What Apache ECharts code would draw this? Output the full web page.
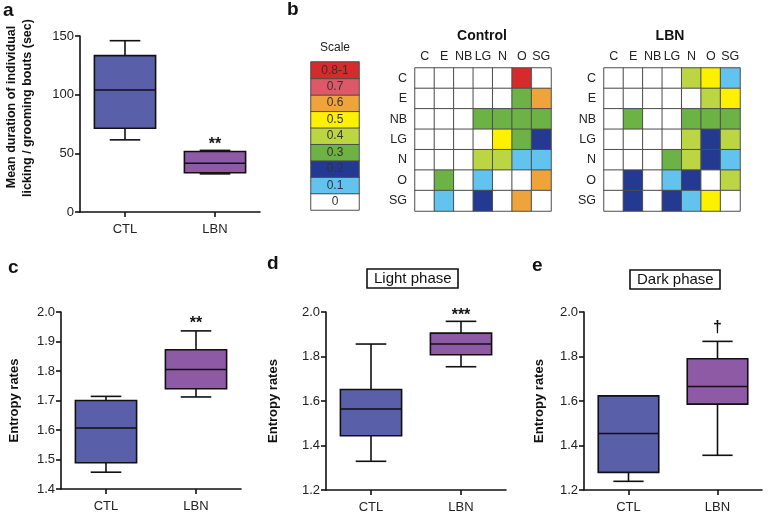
<!DOCTYPE html>
<html>
<head>
<meta charset="utf-8">
<script src="https://cdn.jsdelivr.net/npm/echarts@6/dist/echarts.min.js"></script>
<style>
html,body{margin:0;padding:0;background:#fff;}
#chart{width:768px;height:516px;}
</style>
</head>
<body>
<div id="chart"></div>
<script>
// ---------- DATA ----------
const GROUPS = ['CTL', 'LBN'];
// box stats: [min, Q1, median, Q3, max]
const panelA_CTL = [61.5, 71.4, 104, 133.3, 146];
const panelA_LBN = [32.5, 33.5, 41.5, 51.5, 52.5];
const panelC_CTL = [1.457, 1.489, 1.607, 1.700, 1.714];
const panelC_LBN = [1.712, 1.740, 1.805, 1.872, 1.936];
const panelD_CTL = [1.329, 1.444, 1.564, 1.652, 1.856];
const panelD_LBN = [1.754, 1.808, 1.856, 1.905, 1.958];
const panelE_CTL = [1.239, 1.279, 1.454, 1.623, 1.623];
const panelE_LBN = [1.356, 1.586, 1.665, 1.790, 1.868];
// significance marks: [group, y value, text]
const sigA = [['LBN', 57.5, '**']];
const sigC = [['LBN', 1.96, '**']];
const sigD = [['LBN', 1.985, '***']];
const sigE = [['LBN', 1.93, '\u2020']];

const BEHAVIOURS = ['C', 'E', 'NB', 'LG', 'N', 'O', 'SG'];
const controlMatrix = [
  [0, 0, 0, 0, 0, 0.8, 0],
  [0, 0, 0, 0, 0, 0.3, 0.6],
  [0, 0, 0, 0.3, 0.3, 0.3, 0.3],
  [0, 0, 0, 0, 0.5, 0.3, 0.2],
  [0, 0, 0, 0.4, 0.4, 0.1, 0.1],
  [0, 0.3, 0, 0.1, 0, 0, 0.6],
  [0, 0.1, 0, 0.2, 0, 0.6, 0]
];
const lbnMatrix = [
  [0, 0, 0, 0, 0.4, 0.5, 0.1],
  [0, 0, 0, 0, 0, 0.4, 0.5],
  [0, 0.3, 0, 0, 0.3, 0.3, 0.3],
  [0, 0, 0, 0, 0.4, 0.2, 0.4],
  [0, 0, 0, 0.3, 0.4, 0.2, 0.1],
  [0, 0.2, 0, 0.1, 0.2, 0, 0.4],
  [0, 0.2, 0, 0.2, 0.1, 0.5, 0]
];
const scaleLevels = [0, 0.1, 0.2, 0.3, 0.4, 0.5, 0.6, 0.7, 0.8];
const scaleLabels = ['0', '0.1', '0.2', '0.3', '0.4', '0.5', '0.6', '0.7', '0.8-1'];
const scaleColors = ['#ffffff', '#62c3ee', '#243a92', '#6cb244', '#bcd543', '#fdf100', '#eea43a', '#de5868', '#d62b2c'];

// ---------- BUILD ----------
const FONT = '"Liberation Sans", Arial, sans-serif';
const CTL_COLOR = '#5a5fa9';
const LBN_COLOR = '#8f5aa5';

function boxData(ctl, lbn) { return [[0].concat(ctl), [1].concat(lbn)]; }
function matrixData(m) {
  const out = [];
  m.forEach((row, r) => row.forEach((v, c) => out.push([c, r, v])));
  return out;
}

function boxRender(params, api) {
  const idx = api.value(0);
  const cx = api.coord([idx, api.value(3)])[0];
  const band = api.size([1, 0])[0];
  const bw = band * 0.68;
  const cap = bw * 0.5;
  const yMin = api.coord([idx, api.value(1)])[1];
  const yQ1 = api.coord([idx, api.value(2)])[1];
  const yMed = api.coord([idx, api.value(3)])[1];
  const yQ3 = api.coord([idx, api.value(4)])[1];
  const yMax = api.coord([idx, api.value(5)])[1];
  const st = { stroke: '#111', lineWidth: 1.6, fill: null };
  return {
    type: 'group',
    children: [
      { type: 'line', shape: { x1: cx, y1: yQ3, x2: cx, y2: yMax }, style: st },
      { type: 'line', shape: { x1: cx - cap / 2, y1: yMax, x2: cx + cap / 2, y2: yMax }, style: st },
      { type: 'line', shape: { x1: cx, y1: yQ1, x2: cx, y2: yMin }, style: st },
      { type: 'line', shape: { x1: cx - cap / 2, y1: yMin, x2: cx + cap / 2, y2: yMin }, style: st },
      { type: 'rect', shape: { x: cx - bw / 2, y: yQ3, width: bw, height: yQ1 - yQ3 },
        style: { fill: idx === 0 ? CTL_COLOR : LBN_COLOR, stroke: '#111', lineWidth: 1.6 } },
      { type: 'line', shape: { x1: cx - bw / 2, y1: yMed, x2: cx + bw / 2, y2: yMed }, style: st }
    ]
  };
}
function sigRender(params, api) {
  const p = api.coord([api.value(0), api.value(1)]);
  return {
    type: 'text', x: p[0], y: p[1],
    style: { text: api.value(2), textAlign: 'center', textVerticalAlign: 'middle',
      font: 'bold 16px ' + FONT, fill: '#111' }
  };
}

const axisLine = { show: true, lineStyle: { color: '#111', width: 1.6 } };
function boxX(gi) {
  return { type: 'category', gridIndex: gi, data: GROUPS, boundaryGap: true,
    axisLine: axisLine, axisTick: { show: true, alignWithLabel: true, length: 5, lineStyle: { color: '#111', width: 1.6 } },
    axisLabel: { color: '#222', fontSize: 13, fontFamily: FONT, margin: 11 }, splitLine: { show: false } };
}
function boxY(gi, min, max, interval, digits, name, gap) {
  return { type: 'value', gridIndex: gi, min: min, max: max, interval: interval,
    axisLine: axisLine, axisTick: { show: true, length: 5, lineStyle: { color: '#111', width: 1.6 } },
    axisLabel: { color: '#222', fontSize: 13, fontFamily: FONT, margin: 6,
      formatter: v => v.toFixed(digits) },
    splitLine: { show: false },
    name: name || '', nameLocation: 'middle', nameRotate: 90, nameGap: gap || 34,
    nameTextStyle: { fontWeight: 'bold', fontSize: 13, fontFamily: FONT, color: '#111' } };
}
function heatX(gi, show) {
  return { type: 'category', gridIndex: gi, data: show ? BEHAVIOURS : ['s'], position: 'top',
    axisLine: { show: false }, axisTick: { show: false }, splitLine: { show: false },
    axisLabel: { show: show, color: '#222', fontSize: 12.5, fontFamily: FONT, margin: 5, interval: 0 } };
}
function heatY(gi, show) {
  return { type: 'category', gridIndex: gi, data: show ? BEHAVIOURS : scaleLabels, inverse: show,
    axisLine: { show: false }, axisTick: { show: false }, splitLine: { show: false },
    axisLabel: { show: show, color: '#222', fontSize: 12.5, fontFamily: FONT, margin: 8, interval: 0 } };
}

const pieces = scaleLevels.map((v, i) => ({ gt: v - 0.05, lte: v + 0.05, color: scaleColors[i] }));

const heatItem = { borderColor: '#4d4d4d', borderWidth: 1 };
const letterStyle = { fontSize: 19, fontWeight: 'bold', color: '#111' };

const option = {
  animation: false,
  backgroundColor: '#ffffff',
  textStyle: { fontFamily: FONT },
  grid: [
    { left: 80, top: 36, width: 180, height: 176 },
    { left: 311, top: 62, width: 48, height: 148 },
    { left: 415, top: 68, width: 136, height: 143 },
    { left: 604, top: 68, width: 136, height: 143 },
    { left: 61, top: 312, width: 180, height: 177 },
    { left: 326, top: 312, width: 180, height: 178 },
    { left: 584, top: 312, width: 178, height: 178 }
  ],
  xAxis: [boxX(0), heatX(1, false), heatX(2, true), heatX(3, true), boxX(4), boxX(5), boxX(6)],
  yAxis: [
    boxY(0, 0, 150, 50, 0, ''),
    heatY(1, false), heatY(2, true), heatY(3, true),
    boxY(4, 1.4, 2.0, 0.1, 1, 'Entropy rates', 40),
    boxY(5, 1.2, 2.0, 0.2, 1, 'Entropy rates', 46),
    boxY(6, 1.2, 2.0, 0.2, 1, 'Entropy rates', 38)
  ],
  visualMap: [{ type: 'piecewise', show: false, seriesIndex: [0, 1, 2], dimension: 2, pieces: pieces }],
  title: [
    { text: 'a', left: 3, top: 1, padding: 0, textStyle: letterStyle },
    { text: 'b', left: 287, top: 0, padding: 0, textStyle: letterStyle },
    { text: 'c', left: 8, top: 258, padding: 0, textStyle: letterStyle },
    { text: 'd', left: 267, top: 254, padding: 0, textStyle: letterStyle },
    { text: 'e', left: 532, top: 256, padding: 0, textStyle: letterStyle },
    { text: 'Scale', left: 335, top: 42, textAlign: 'center', padding: 0, textStyle: { fontSize: 12, fontWeight: 'normal', color: '#222' } },
    { text: 'Control', left: 482, top: 29, textAlign: 'center', padding: 0, textStyle: { fontSize: 14, fontWeight: 'bold', color: '#111' } },
    { text: 'LBN', left: 670, top: 29, textAlign: 'center', padding: 0, textStyle: { fontSize: 14, fontWeight: 'bold', color: '#111' } },
    { text: 'Light phase', left: 367, top: 269, padding: [2, 7], borderColor: '#111', borderWidth: 1.6,
      textStyle: { fontSize: 15, fontWeight: 'normal', color: '#111' } },
    { text: 'Dark phase', left: 630, top: 270, padding: [2, 7], borderColor: '#111', borderWidth: 1.6,
      textStyle: { fontSize: 15, fontWeight: 'normal', color: '#111' } }
  ],
  graphic: [
    { type: 'text', x: 12, y: 107, rotation: Math.PI / 2,
      style: { text: 'Mean duration of individual', textAlign: 'center', textVerticalAlign: 'middle',
        font: 'bold 12.5px ' + FONT, fill: '#111' } },
    { type: 'text', x: 27.5, y: 108, rotation: Math.PI / 2,
      style: { text: 'licking / grooming bouts (sec)', textAlign: 'center', textVerticalAlign: 'middle',
        font: 'bold 12.5px ' + FONT, fill: '#111' } }
  ],
  series: [
    { type: 'heatmap', xAxisIndex: 1, yAxisIndex: 1,
      data: scaleLevels.map((v, i) => [0, i, v]), itemStyle: heatItem,
      label: { show: true, formatter: p => scaleLabels[p.data[1]], fontSize: 12, color: '#333' } },
    { type: 'heatmap', xAxisIndex: 2, yAxisIndex: 2, data: matrixData(controlMatrix), itemStyle: heatItem },
    { type: 'heatmap', xAxisIndex: 3, yAxisIndex: 3, data: matrixData(lbnMatrix), itemStyle: heatItem },
    { type: 'custom', xAxisIndex: 0, yAxisIndex: 0, renderItem: boxRender, encode: { x: 0, y: [1, 2, 3, 4, 5] }, data: boxData(panelA_CTL, panelA_LBN), clip: false },
    { type: 'custom', xAxisIndex: 4, yAxisIndex: 4, renderItem: boxRender, encode: { x: 0, y: [1, 2, 3, 4, 5] }, data: boxData(panelC_CTL, panelC_LBN), clip: false },
    { type: 'custom', xAxisIndex: 5, yAxisIndex: 5, renderItem: boxRender, encode: { x: 0, y: [1, 2, 3, 4, 5] }, data: boxData(panelD_CTL, panelD_LBN), clip: false },
    { type: 'custom', xAxisIndex: 6, yAxisIndex: 6, renderItem: boxRender, encode: { x: 0, y: [1, 2, 3, 4, 5] }, data: boxData(panelE_CTL, panelE_LBN), clip: false },
    { type: 'custom', xAxisIndex: 0, yAxisIndex: 0, renderItem: sigRender, encode: { x: 0, y: 1 }, data: sigA, clip: false },
    { type: 'custom', xAxisIndex: 4, yAxisIndex: 4, renderItem: sigRender, encode: { x: 0, y: 1 }, data: sigC, clip: false },
    { type: 'custom', xAxisIndex: 5, yAxisIndex: 5, renderItem: sigRender, encode: { x: 0, y: 1 }, data: sigD, clip: false },
    { type: 'custom', xAxisIndex: 6, yAxisIndex: 6, renderItem: sigRender, encode: { x: 0, y: 1 }, data: sigE, clip: false }
  ]
};

const chart = echarts.init(document.getElementById('chart'), null, { renderer: 'canvas' });
chart.setOption(option);
</script>
</body>
</html>
